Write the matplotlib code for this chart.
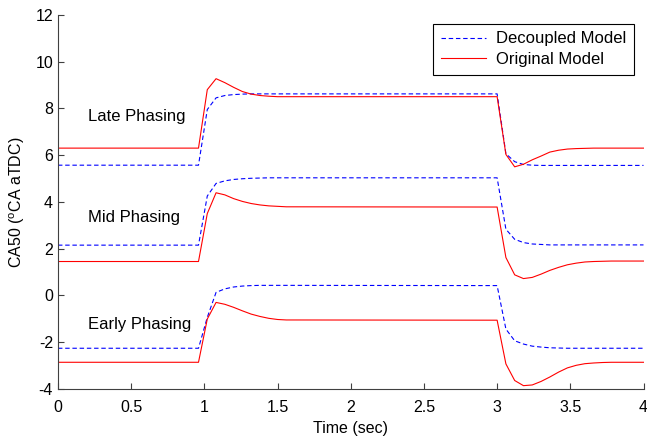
"""CA50 response of the decoupled vs original model to a step at 1 s and 3 s,
for late, mid and early combustion phasing."""

import matplotlib
matplotlib.use("Agg")
import matplotlib.pyplot as plt
from matplotlib.ticker import FormatStrFormatter, MultipleLocator

plt.rcParams["font.family"] = ["Liberation Sans", "DejaVu Sans"]
plt.rcParams["mathtext.fontset"] = "custom"
plt.rcParams["mathtext.rm"] = "Liberation Sans"

# sample times: start, rising transient, falling transient, end
t_rise = [0.96, 1.02, 1.08, 1.14, 1.20, 1.26, 1.32, 1.38, 1.44, 1.50, 1.56]
t_fall = [3.00, 3.06, 3.12, 3.18, 3.24, 3.30, 3.36, 3.42, 3.48, 3.54,
          3.60, 3.66, 3.72, 3.78]
time = [0.0] + t_rise + t_fall + [4.0]

# late phasing
late_orig = ([6.30] +
             [6.30, 8.80, 9.27, 9.10, 8.90, 8.72, 8.61, 8.55, 8.52, 8.50, 8.50] +
             [8.50, 6.03, 5.50, 5.61, 5.80, 5.96, 6.13, 6.21, 6.26, 6.28,
              6.29, 6.30, 6.30, 6.30] + [6.30])
late_dec = ([5.57] +
            [5.57, 7.95, 8.45, 8.55, 8.59, 8.61, 8.62, 8.62, 8.62, 8.62, 8.62] +
            [8.62, 6.06, 5.72, 5.60, 5.57, 5.56, 5.56, 5.56, 5.56, 5.56,
             5.56, 5.56, 5.56, 5.56] + [5.56])

# mid phasing
mid_orig = ([1.45] +
            [1.45, 3.50, 4.39, 4.30, 4.14, 4.02, 3.93, 3.87, 3.83, 3.81, 3.79] +
            [3.78, 1.62, 0.88, 0.72, 0.77, 0.91, 1.07, 1.20, 1.31, 1.38,
             1.43, 1.45, 1.46, 1.47] + [1.47])
mid_dec = ([2.15] +
           [2.15, 4.25, 4.79, 4.90, 4.96, 4.99, 5.01, 5.02, 5.03, 5.03, 5.03] +
           [5.03, 2.83, 2.40, 2.26, 2.20, 2.18, 2.16, 2.16, 2.16, 2.16,
            2.16, 2.16, 2.16, 2.16] + [2.16])

# early phasing
early_orig = ([-2.86] +
              [-2.86, -1.01, -0.30, -0.38, -0.51, -0.66, -0.80, -0.90, -0.98,
               -1.03, -1.05] +
              [-1.06, -2.93, -3.64, -3.86, -3.83, -3.68, -3.49, -3.28, -3.10,
               -2.99, -2.92, -2.89, -2.87, -2.86] + [-2.86])
early_dec = ([-2.26] +
             [-2.26, -0.94, 0.13, 0.28, 0.36, 0.40, 0.42, 0.43, 0.43, 0.43,
              0.43] +
             [0.42, -1.44, -1.94, -2.08, -2.17, -2.21, -2.24, -2.25, -2.26,
              -2.26, -2.26, -2.26, -2.26, -2.26] + [-2.26])

labels = ["Late Phasing", "Mid Phasing", "Early Phasing"]
label_y = [7.65, 3.34, -1.23]


def main():
    fig = plt.figure(figsize=(6.47, 4.37), dpi=100)
    ax = fig.add_axes([0.0896, 0.110, 0.905, 0.856])

    dec_kw = dict(color="#0000ff", lw=0.8, ls=(0, (4, 2.5)))
    org_kw = dict(color="#ff0000", lw=0.8)

    for i, (d, o) in enumerate([(late_dec, late_orig), (mid_dec, mid_orig),
                                (early_dec, early_orig)]):
        ax.plot(time, d, label="Decoupled Model" if i == 0 else None, **dec_kw)
        ax.plot(time, o, label="Original Model" if i == 0 else None, **org_kw)

    for txt, y in zip(labels, label_y):
        ax.text(0.205, y, txt, fontsize=12, va="center", ha="left")

    ax.set_xlim(0, 4)
    ax.set_ylim(-4, 12)
    ax.xaxis.set_major_locator(MultipleLocator(0.5))
    ax.yaxis.set_major_locator(MultipleLocator(2))
    ax.xaxis.set_major_formatter(FormatStrFormatter("%g"))
    ax.yaxis.set_major_formatter(FormatStrFormatter("%g"))
    ax.tick_params(direction="in", length=4, width=0.8, labelsize=11.5,
                   color="#404040")
    ax.tick_params(axis="x", pad=8)

    for side in ["top", "right"]:
        ax.spines[side].set_visible(False)
    for side in ["left", "bottom"]:
        ax.spines[side].set_color("#404040")
        ax.spines[side].set_linewidth(0.8)

    ax.set_xlabel("Time (sec)", fontsize=11.5, labelpad=4)
    ax.set_ylabel("CA50 ($^{\\rm o}$CA aTDC)", fontsize=11.5, labelpad=6)

    leg = ax.legend(loc="upper right", fontsize=12, fancybox=False,
                    framealpha=1, edgecolor="black", handlelength=2.7,
                    borderaxespad=0, handletextpad=0.65, labelspacing=0.35,
                    borderpad=0.45, bbox_to_anchor=(0.984, 0.976))
    leg.get_frame().set_linewidth(0.8)

    fig.savefig("out.png", dpi=100)
    plt.close(fig)


if __name__ == "__main__":
    main()
